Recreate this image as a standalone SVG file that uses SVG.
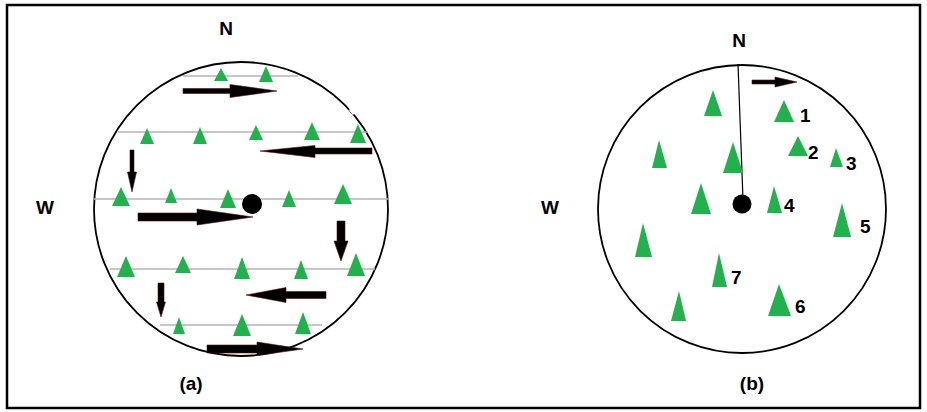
<svg xmlns="http://www.w3.org/2000/svg" width="927" height="412" viewBox="0 0 927 412">
<style>
.frame{fill:none;stroke:#000;stroke-width:2.5}
.circ{fill:none;stroke:#000;stroke-width:1.8}
.grid{stroke:#b4b4b4;stroke-width:1.5}
.tree{fill:#22b14c}
.arr{fill:#000;stroke:#5a1010;stroke-width:0.6;stroke-linejoin:miter}
.lbl{font-family:"Liberation Sans",Arial,sans-serif;font-weight:bold;font-size:19px;fill:#000}
.num{font-family:"Liberation Sans",Arial,sans-serif;font-weight:bold;font-size:19px;fill:#000}
</style>
<rect class="frame" x="7" y="5" width="913" height="403"/>

<g id="panel-a">
  <circle class="circ" cx="241" cy="209" r="147"/>
  <line x1="350" y1="109" x2="354" y2="114" stroke="#fff" stroke-width="3"/>
  <g id="grid-a">
    <line class="grid" x1="183" y1="76" x2="298" y2="76"/>
    <line class="grid" x1="118" y1="132" x2="368" y2="132"/>
    <line class="grid" x1="94" y1="199" x2="388" y2="199"/>
    <line class="grid" x1="110" y1="269" x2="375" y2="269"/>
    <line class="grid" x1="160" y1="325" x2="322" y2="325"/>
  </g>
  <g id="trees-a">
    <polygon class="tree" points="221,68 214,81 228,81"/>
    <polygon class="tree" points="266,66 259,82 273,82"/>
    <polygon class="tree" points="147,128 140,144 154,144"/>
    <polygon class="tree" points="200,127 193,144 207,144"/>
    <polygon class="tree" points="256,125 249,140 263,140"/>
    <polygon class="tree" points="312,122 304,140 320,140"/>
    <polygon class="tree" points="358,124 350,143 366,143"/>
    <polygon class="tree" points="121,187 112,206 130,206"/>
    <polygon class="tree" points="171,188 165,203 177,203"/>
    <polygon class="tree" points="228,189 220,208 236,208"/>
    <polygon class="tree" points="289,190 282,207 296,207"/>
    <polygon class="tree" points="343,184 334,204 352,204"/>
    <polygon class="tree" points="126,256 117,277 135,277"/>
    <polygon class="tree" points="183,256 175,273 191,273"/>
    <polygon class="tree" points="242,257 234,279 250,279"/>
    <polygon class="tree" points="301,260 294,279 308,279"/>
    <polygon class="tree" points="356,253 347,276 365,276"/>
    <polygon class="tree" points="179,317 173,334 185,334"/>
    <polygon class="tree" points="242,314 233,336 251,336"/>
    <polygon class="tree" points="303,312 295,334 311,334"/>
  </g>
  <circle id="center-a" cx="252" cy="204" r="10" fill="#000"/>
  <g id="arrows-a">
    <polygon class="arr" points="183,88.5 230,88.5 230,84.5 277,91 230,97.5 230,93.5 183,93.5"/>
    <polygon class="arr" points="372,148 315,148 315,145.5 260,151 315,157.5 315,154 372,154"/>
    <polygon class="arr" points="130,150 130,172 127.5,172 132,192 136.5,172 134,172 134,150"/>
    <polygon class="arr" points="138,213 197,213 197,209 253,217 197,225 197,221 138,221"/>
    <polygon class="arr" points="337,221 337,241 334,241 341,261 348,241 345,241 345,221"/>
    <polygon class="arr" points="326,291.5 286,291.5 286,287.5 246,295 286,302.5 286,298.5 326,298.5"/>
    <polygon class="arr" points="158,283 158,302 156.5,302 161,317 165.5,302 164,302 164,283"/>
    <polygon class="arr" points="207,345 257,345 257,342 303,349 257,355.5 257,353 207,353"/>
  </g>
  <text class="lbl" x="226" y="35" text-anchor="middle">N</text>
  <text class="lbl" x="45" y="214" text-anchor="middle">W</text>
  <text class="lbl" x="191" y="390" text-anchor="middle">(a)</text>
</g>

<g id="panel-b">
  <circle class="circ" cx="742" cy="209" r="144"/>
  <line x1="738" y1="64" x2="743" y2="200" stroke="#000" stroke-width="1.2"/>
  <circle id="center-b" cx="742" cy="204" r="9.5" fill="#000"/>
  <polygon class="arr" points="752,80 775,80 775,77 797,82 775,87 775,84 752,84"/>
  <g id="trees-b">
    <polygon class="tree" points="713,90 704,116 722,116"/>
    <polygon class="tree" points="784,100 774,122 794,122"/>
    <polygon class="tree" points="798,136 788,156 808,156"/>
    <polygon class="tree" points="836,148 830,167 843,167"/>
    <polygon class="tree" points="659,140 652,168 667,168"/>
    <polygon class="tree" points="733,142 723,173 743,173"/>
    <polygon class="tree" points="701,183 691,214 711,214"/>
    <polygon class="tree" points="774,186 767,213 782,213"/>
    <polygon class="tree" points="842,203 833,237 851,237"/>
    <polygon class="tree" points="643,223 635,257 652,257"/>
    <polygon class="tree" points="719,253 712,287 727,287"/>
    <polygon class="tree" points="779,284 768,316 791,316"/>
    <polygon class="tree" points="679,291 671,321 686,321"/>
  </g>
  <g id="numbers-b">
    <text class="num" x="800" y="122">1</text>
    <text class="num" x="808" y="159">2</text>
    <text class="num" x="846" y="170">3</text>
    <text class="num" x="784" y="212">4</text>
    <text class="num" x="860" y="233">5</text>
    <text class="num" x="795" y="313">6</text>
    <text class="num" x="731" y="284">7</text>
  </g>
  <text class="lbl" x="739" y="47" text-anchor="middle">N</text>
  <text class="lbl" x="550" y="214" text-anchor="middle">W</text>
  <text class="lbl" x="752" y="390" text-anchor="middle">(b)</text>
</g>
</svg>
